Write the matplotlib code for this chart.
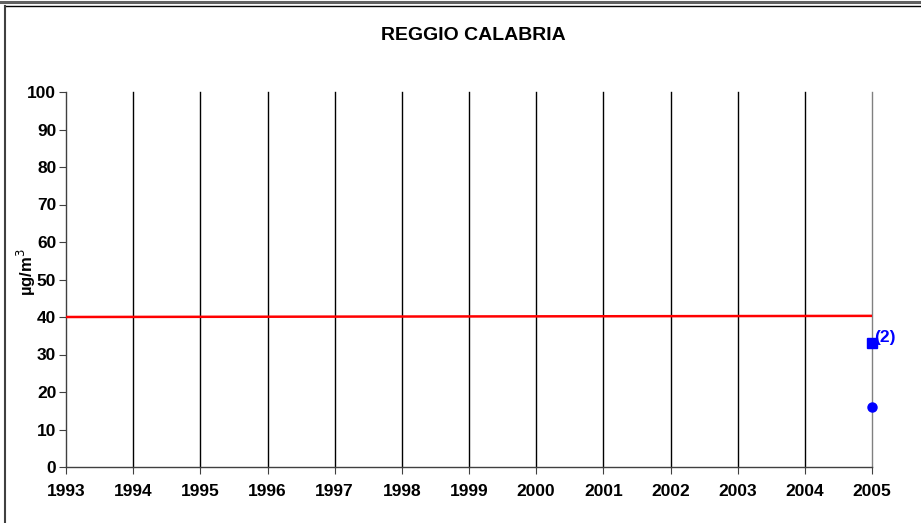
import numpy as np
import matplotlib.pyplot as plt
from matplotlib.lines import Line2D

plt.rcParams['font.family'] = ['Liberation Sans', 'DejaVu Sans']

years = list(range(1993, 2006))
limit_years = [1993, 2005]
limit_values = [40, 40.3]
square_year = [2005]
square_value = [33]
circle_year = [2005]
circle_value = [16]
yticks = list(range(0, 101, 10))

W, H = 921, 523
fig = plt.figure(figsize=(W / 100, H / 100), dpi=100)
ax = fig.add_axes([66 / W, 1 - 467 / H, (872 - 66) / W, (467 - 92) / H])

# vertical grid lines
for yr in years[1:]:
    c = '#808080' if yr == 2005 else 'black'
    ax.axvline(yr, color=c, lw=1.0, zorder=1, clip_on=False)

ax.plot(limit_years, limit_values, color='#ff0000', lw=1.8, zorder=3)
ax.plot(square_year, square_value, 's', color='#0000ff', ms=6.5, zorder=4, clip_on=False)
ax.plot(circle_year, circle_value, 'o', color='#0000ff', ms=6.5, zorder=4, clip_on=False)
ax.text(2005.03, square_value[0] - 0.5, '(2)', color='#0000ff', fontsize=12.5,
        fontweight='bold', va='bottom', ha='left')

ax.set_xlim(1993, 2005)
ax.set_ylim(0, 100)
ax.set_xticks(years)
ax.set_yticks(yticks)
ax.set_xticklabels([str(y) for y in years], fontweight='bold', fontsize=12.5)
ax.set_yticklabels([str(v) for v in yticks], fontweight='bold', fontsize=12.5)
ax.tick_params(axis='both', direction='out', length=5, width=0.8, color='#404040')
ax.tick_params(axis='x', pad=7)
ax.tick_params(axis='y', pad=2)
for s in ['top', 'right']:
    ax.spines[s].set_visible(False)
for s in ['left', 'bottom']:
    ax.spines[s].set_color('#404040')
    ax.spines[s].set_linewidth(1.0)

fig.text(26 / W, 1 - 272 / H, 'µg/m$^3$', rotation=90, fontsize=12, fontweight='bold',
         ha='center', va='center')
fig.text(473 / W, 1 - 35 / H, 'REGGIO CALABRIA', fontsize=14, fontweight='bold',
         ha='center', va='center')

# outer frame
fig.add_artist(Line2D([0, 1], [1 - 1.5 / H, 1 - 1.5 / H], color='#606060', lw=2.2))
fig.add_artist(Line2D([5 / W, 1], [1 - 6 / H, 1 - 6 / H], color='black', lw=1.0))
fig.add_artist(Line2D([5 / W, 5 / W], [1 - 6 / H, 0], color='#404040', lw=1.5))

fig.savefig('out.png', dpi=100)
